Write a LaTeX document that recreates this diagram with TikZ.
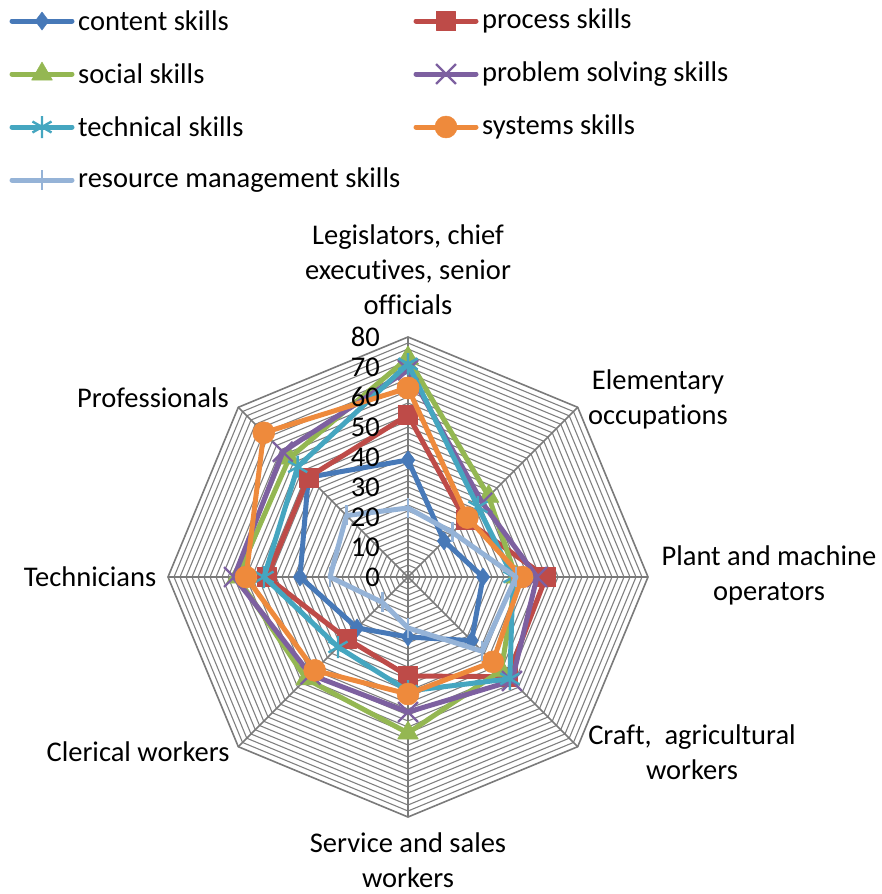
\documentclass[tikz,border=0pt]{standalone}
\usepackage{fontspec}
\setmainfont{Carlito}[Ligatures=NoCommon]
\usetikzlibrary{plotmarks}
\definecolor{cContent}{HTML}{4779B8}
\definecolor{cProcess}{HTML}{BE4B48}
\definecolor{cSocial}{HTML}{94B752}
\definecolor{cProblem}{HTML}{7D60A0}
\definecolor{cTechnical}{HTML}{45A6C0}
\definecolor{cSystems}{HTML}{EE8A3C}
\definecolor{cResource}{HTML}{95B3D7}
\tikzset{ser/.style={line width=5pt, line join=round, line cap=round}}
\tikzset{skcontent/.style={ser, draw=cContent, mark=diamond*, mark size=9pt, mark options={fill=cContent, draw=cContent, line width=0.5pt}}}
\tikzset{skprocess/.style={ser, draw=cProcess, mark=square*, mark size=9.5pt, mark options={fill=cProcess, draw=cProcess, line width=0.5pt}}}
\tikzset{sksocial/.style={ser, draw=cSocial, mark=triangle*, mark size=12pt, mark options={fill=cSocial, draw=cSocial, line width=0.5pt}}}
\tikzset{skproblem/.style={ser, draw=cProblem, mark=x, mark size=14pt, mark options={draw=cProblem, line width=2.4pt, line cap=butt}}}
\tikzset{sktechnical/.style={ser, draw=cTechnical, mark=asterisk, mark size=11pt, mark options={draw=cTechnical, line width=2.4pt, line cap=butt}}}
\tikzset{sksystems/.style={ser, draw=cSystems, mark=*, mark size=11pt, mark options={fill=cSystems, draw=cSystems, line width=0.5pt}}}
\tikzset{skresource/.style={ser, draw=cResource, mark=|, mark size=10pt, mark options={draw=cResource, line width=2.4pt, line cap=butt}}}
\tikzset{gridln/.style={draw=black!50, line width=1.1pt}}
\tikzset{gridout/.style={draw=black!52, line width=1.6pt}}
\tikzset{axlab/.style={align=center, inner sep=0pt, font=\fontsize{28.5}{35}\selectfont}}
\tikzset{numlab/.style={anchor=east, inner sep=0pt, font=\fontsize{28.5}{35}\selectfont}}
\tikzset{legtxt/.style={anchor=west, inner sep=0pt, font=\fontsize{28.5}{35}\selectfont}}

\begin{document}
\begin{tikzpicture}[x=1pt,y=-1pt]
\useasboundingbox (0,0) rectangle (881,894);
% web
\begin{scope}[shift={(408,577)}]
  \foreach \v in {2,4,...,78}
    \draw[gridln] (-90:3*\v) \foreach \k in {1,...,7}{ -- (-90+45*\k:3*\v)} -- cycle;
  \draw[gridout] (-90:240) \foreach \k in {1,...,7}{ -- (-90+45*\k:240)} -- cycle;
  \foreach \k in {0,...,7}
    \draw[gridout] (0,0) -- (-90+45*\k:240);
  % series, axes clockwise from the top
  \foreach \s/\vals in {skcontent/{39,17,25,30,20,24,36,47},
                        skprocess/{54,27,46,47,33,29,47,47},
                        sksocial/{73,38,36,44,52,48,57,56},
                        skproblem/{69,35,43,49,45,46,58,59},
                        sktechnical/{71,33,35,48,38,33,48,52},
                        sksystems/{63,28,38,40,39,44,54,68},
                        skresource/{23,21,36,35,17,12,26,29}}{
    \foreach \v [count=\k from 0] in \vals
      \coordinate (\s\k) at (-90+45*\k:3*\v);
    \draw[\s] plot coordinates {(\s0) (\s1) (\s2) (\s3) (\s4) (\s5) (\s6) (\s7) (\s0)};
  }
\end{scope}
% scale
\foreach \v in {0,10,...,80}
  \node[numlab] (n\v) at (380,577-3*\v) {\v};
% categories
\node[axlab] (lLeg) at (408,270) {Legislators, chief\\executives, senior\\officials};
\node[axlab] (lElem) at (658,399) {Elementary\\occupations};
\node[axlab] (lPlant) at (769,575) {Plant and machine\\operators};
\node[axlab] (lCraft) at (692,752) {Craft,\ \ agricultural\\workers};
\node[axlab] (lServ) at (408,860) {Service and sales\\workers};
\node[axlab] (lCler) at (138,752) {Clerical workers};
\node[axlab] (lTech) at (90,577) {Technicians};
\node[axlab] (lProf) at (153,398) {Professionals};
% legend
\foreach \s/\t/\x/\y in {skcontent/content skills/12/21, skprocess/process skills/416/21,
                         sksocial/social skills/12/74, skproblem/problem solving skills/416/74,
                         sktechnical/technical skills/12/127, sksystems/systems skills/416/127,
                         skresource/resource management skills/12/180}{
  \draw[\s, mark indices={2}] plot coordinates {(\x,\y) (\x+30,\y) (\x+60,\y)};
  \node[legtxt] (t\s) at (\x+66,\y) {\t};
}
\end{tikzpicture}
\end{document}
